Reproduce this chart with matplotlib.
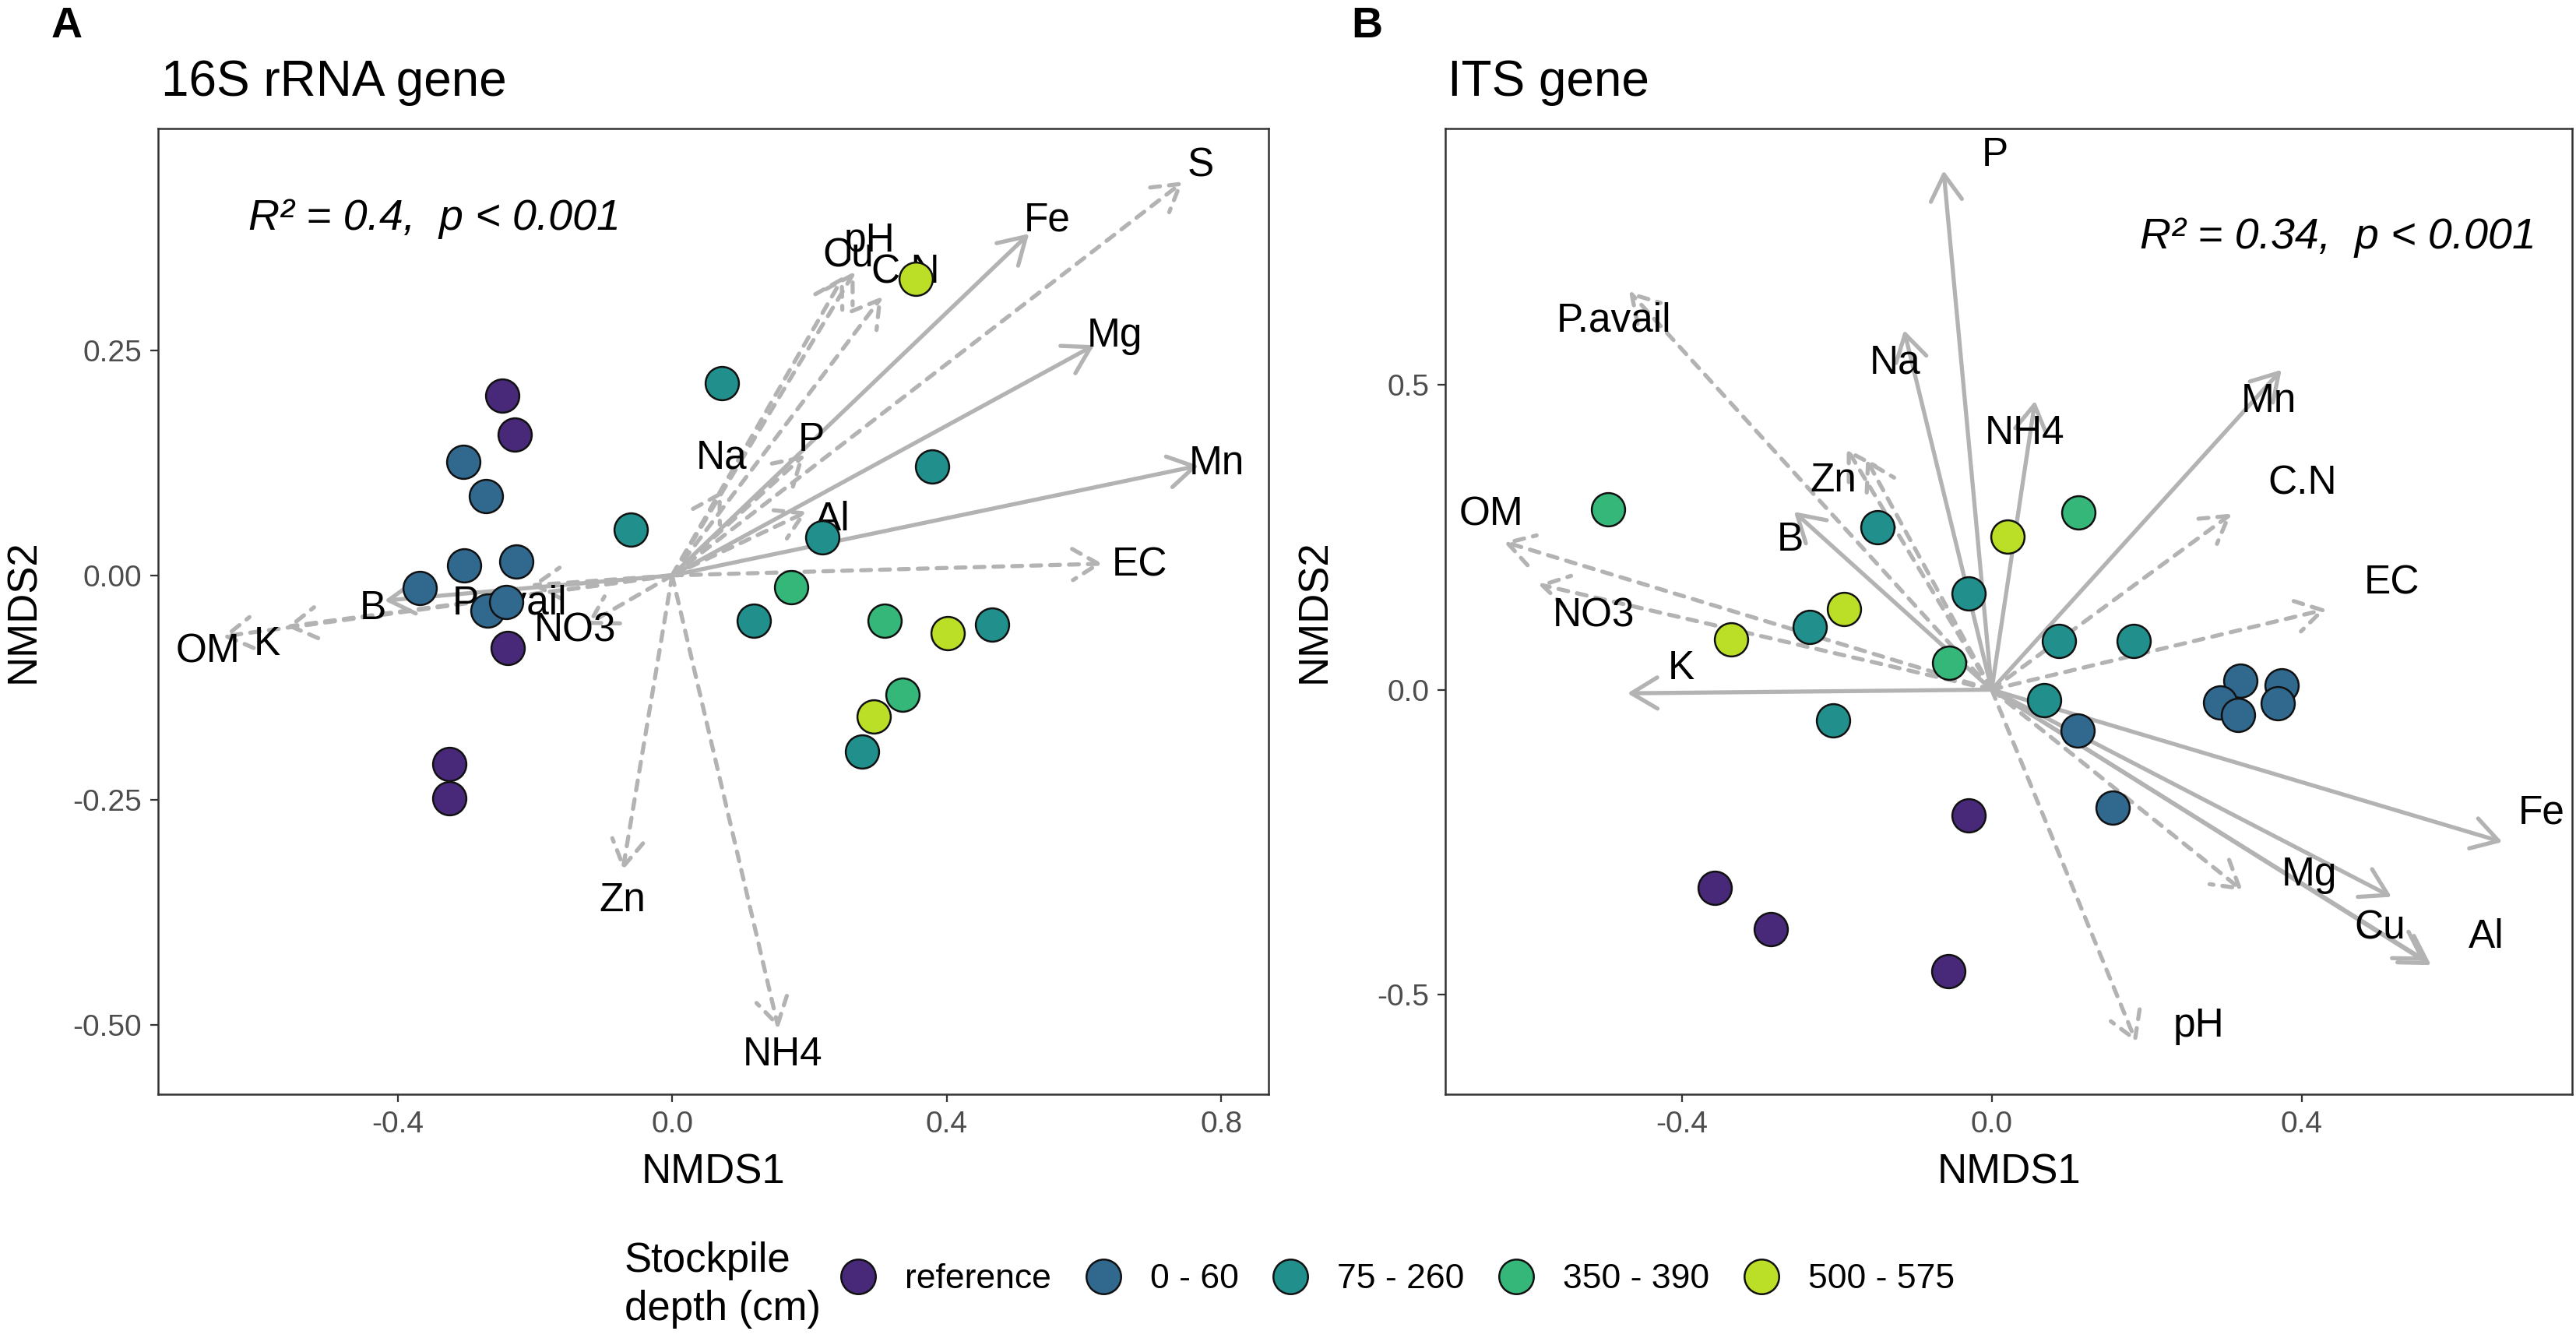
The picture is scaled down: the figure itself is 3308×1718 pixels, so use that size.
import matplotlib
matplotlib.use("Agg")
import matplotlib.pyplot as plt
from matplotlib.lines import Line2D

plt.rcParams['font.family'] = ['Liberation Sans', 'DejaVu Sans']

W, H = 3308, 1718

# ---------------- data ----------------
groups = ["reference", "0 - 60", "75 - 260", "350 - 390", "500 - 575"]
colors = ['#482878', '#31688E', '#21908C', '#35B779', '#BBDF27']

# Panel A (16S rRNA gene) sample scores
A_ref_x = [-0.248, -0.229, -0.239, -0.325, -0.325]
A_ref_y = [0.200, 0.157, -0.081, -0.210, -0.248]
A_d060_x = [-0.304, -0.271, -0.303, -0.227, -0.368, -0.269, -0.242]
A_d060_y = [0.126, 0.088, 0.011, 0.015, -0.014, -0.039, -0.030]
A_d75_x = [0.072, -0.060, 0.379, 0.219, 0.119, 0.466, 0.277]
A_d75_y = [0.214, 0.051, 0.121, 0.042, -0.050, -0.055, -0.196]
A_d350_x = [0.174, 0.310, 0.336]
A_d350_y = [-0.013, -0.050, -0.133]
A_d500_x = [0.355, 0.402, 0.294]
A_d500_y = [0.330, -0.064, -0.157]

# Panel A environmental vectors
A_vec_names = ["S", "Fe", "pH", "Cu", "C.N", "Mg", "Na", "P", "Al", "Mn", "EC",
               "OM", "K", "B", "P.avail", "NO3", "Zn", "NH4"]
A_vec_x = [0.745, 0.520, 0.250, 0.266, 0.306, 0.615, 0.072, 0.193, 0.197, 0.767, 0.627,
           -0.656, -0.562, -0.419, -0.206, -0.125, -0.072, 0.155]
A_vec_y = [0.438, 0.380, 0.333, 0.338, 0.310, 0.256, 0.094, 0.134, 0.071, 0.122, 0.013,
           -0.068, -0.057, -0.028, -0.011, -0.055, -0.328, -0.504]
A_vec_signif = [False, True, False, False, False, True, False, False, False, True, False,
                False, False, True, False, False, False, False]
A_lab_x = [0.770, 0.546, 0.288, 0.257, 0.340, 0.645, 0.072, 0.203, 0.233, 0.794, 0.681,
           -0.676, -0.590, -0.436, -0.237, -0.141, -0.072, 0.161]
A_lab_y = [0.455, 0.395, 0.372, 0.355, 0.337, 0.266, 0.131, 0.150, 0.062, 0.124, 0.011,
           -0.085, -0.077, -0.037, -0.031, -0.062, -0.362, -0.533]

# Panel B (ITS gene) sample scores
B_ref_x = [-0.030, -0.357, -0.285, -0.056]
B_ref_y = [-0.206, -0.325, -0.393, -0.4625]
B_d060_x = [0.111, 0.156, 0.321, 0.295, 0.318, 0.374, 0.369]
B_d060_y = [-0.067, -0.193, 0.015, -0.021, -0.042, 0.007, -0.022]
B_d75_x = [-0.147, -0.030, -0.235, 0.087, 0.183, 0.068, -0.205]
B_d75_y = [0.266, 0.158, 0.1025, 0.080, 0.080, -0.017, -0.050]
B_d350_x = [-0.495, 0.112, -0.055]
B_d350_y = [0.296, 0.291, 0.044]
B_d500_x = [0.020, -0.191, -0.336]
B_d500_y = [0.251, 0.132, 0.083]

# Panel B environmental vectors
B_vec_names = ["P", "Na", "NH4", "Mn", "B", "K", "Fe", "Mg", "Cu", "Al",
               "P.avail", "Zn", "", "OM", "NO3", "C.N", "EC", "pH", ""]
B_vec_x = [-0.062, -0.113, 0.056, 0.374, -0.255, -0.470, 0.659, 0.516, 0.560, 0.567,
           -0.468, -0.187, -0.162, -0.630, -0.585, 0.310, 0.432, 0.187, 0.324]
B_vec_y = [0.852, 0.590, 0.474, 0.525, 0.292, -0.006, -0.250, -0.340, -0.445, -0.452,
           0.654, 0.396, 0.379, 0.243, 0.173, 0.289, 0.132, -0.580, -0.330]
B_vec_signif = [True, True, True, True, True, True, True, True, True, True,
                False, False, False, False, False, False, False, False, False]
B_lab_x = [0.004, -0.125, 0.043, 0.358, -0.260, -0.401, 0.709, 0.410, 0.501, 0.638,
           -0.487, -0.204, 0.0, -0.646, -0.514, 0.401, 0.516, 0.267, 0.0]
B_lab_y = [0.877, 0.536, 0.421, 0.473, 0.246, 0.034, -0.202, -0.304, -0.392, -0.406,
           0.605, 0.343, 0.0, 0.287, 0.121, 0.338, 0.175, -0.552, 0.0]

A_xticks = [-0.4, 0.0, 0.4, 0.8]
A_xticklabels = ["-0.4", "0.0", "0.4", "0.8"]
A_yticks = [-0.50, -0.25, 0.00, 0.25]
A_yticklabels = ["-0.50", "-0.25", "0.00", "0.25"]
B_xticks = [-0.4, 0.0, 0.4]
B_xticklabels = ["-0.4", "0.0", "0.4"]
B_yticks = [-0.5, 0.0, 0.5]
B_yticklabels = ["-0.5", "0.0", "0.5"]

# ---------------- styles ----------------
ARROW_COL = '#B3B3B3'
ARROW_LW = 3.8
PT_SIZE = 950
LAB_FS = 37
TICK_FS = 28
AXT_FS = 38

fig = plt.figure(figsize=(W / 100, H / 100), dpi=100)
axA = fig.add_axes([203 / W, 1 - 1405 / H, (1629 - 203) / W, (1405 - 165) / H])
axB = fig.add_axes([1856 / W, 1 - 1405 / H, (3303 - 1856) / W, (1405 - 165) / H])


def draw_panel(ax, pts, names, vx, vy, sig, lx, ly, xlim, ylim,
               xt, xtl, yt, ytl):
    for n, x, y, s in zip(names, vx, vy, sig):
        ls = '-' if s else (0, (2.4, 2.2))
        ax.annotate('', xy=(x, y), xytext=(0, 0),
                    arrowprops=dict(arrowstyle='->,head_length=0.4,head_width=0.24',
                                    mutation_scale=60, lw=ARROW_LW, color=ARROW_COL,
                                    linestyle=ls, shrinkA=0, shrinkB=0),
                    zorder=2)
    for n, x, y in zip(names, lx, ly):
        if n:
            ax.text(x, y, n, fontsize=LAB_FS, ha='center', va='center',
                    color='black', zorder=3)
    for (px, py), c in zip(pts, colors):
        ax.scatter(px, py, s=PT_SIZE, c=c, edgecolors='#111111',
                   linewidths=1.8, zorder=4)
    ax.set_xlim(*xlim)
    ax.set_ylim(*ylim)
    ax.set_xticks(xt)
    ax.set_xticklabels(xtl)
    ax.set_yticks(yt)
    ax.set_yticklabels(ytl)
    ax.tick_params(axis='both', length=7, width=1.6, color='#333333',
                   labelsize=TICK_FS, labelcolor='#4D4D4D', pad=8)
    for sp in ax.spines.values():
        sp.set_color('#333333')
        sp.set_linewidth(1.8)


ptsA = [(A_ref_x, A_ref_y), (A_d060_x, A_d060_y), (A_d75_x, A_d75_y),
        (A_d350_x, A_d350_y), (A_d500_x, A_d500_y)]
ptsB = [(B_ref_x, B_ref_y), (B_d060_x, B_d060_y), (B_d75_x, B_d75_y),
        (B_d350_x, B_d350_y), (B_d500_x, B_d500_y)]

draw_panel(axA, ptsA, A_vec_names, A_vec_x, A_vec_y, A_vec_signif, A_lab_x, A_lab_y,
           (-0.749, 0.869), (-0.577, 0.497),
           A_xticks, A_xticklabels, A_yticks, A_yticklabels)
draw_panel(axB, ptsB, B_vec_names, B_vec_x, B_vec_y, B_vec_signif, B_lab_x, B_lab_y,
           (-0.705, 0.749), (-0.664, 0.921),
           B_xticks, B_xticklabels, B_yticks, B_yticklabels)

axA.text(-0.617, 0.384, 'R² = 0.4,  p < 0.001', style='italic', fontsize=40,
         ha='left', va='baseline', zorder=5)
axB.text(0.703, 0.724, 'R² = 0.34,  p < 0.001', style='italic', fontsize=40,
         ha='right', va='baseline', zorder=5)

# titles and panel letters
fig.text(66 / W, 1 - 48 / H, 'A', fontsize=40, fontweight='bold', va='baseline')
fig.text(1735 / W, 1 - 48 / H, 'B', fontsize=40, fontweight='bold', va='baseline')
fig.text(207 / W, 1 - 123 / H, '16S rRNA gene', fontsize=46, va='baseline')
fig.text(1859 / W, 1 - 123 / H, 'ITS gene', fontsize=46, va='baseline')

# axis titles
fig.text(916 / W, 1 - 1505 / H, 'NMDS1', fontsize=AXT_FS, ha='center', va='center')
fig.text(2580 / W, 1 - 1505 / H, 'NMDS1', fontsize=AXT_FS, ha='center', va='center')
fig.text(30 / W, 1 - 785 / H, 'NMDS2', fontsize=AXT_FS, ha='center', va='center',
         rotation=90)
fig.text(1688 / W, 1 - 785 / H, 'NMDS2', fontsize=AXT_FS, ha='center', va='center',
         rotation=90)

# legend
handles = [Line2D([0], [0], marker='o', linestyle='none', markersize=32,
                  markerfacecolor=c, markeredgecolor='#111111', markeredgewidth=1.8)
           for c in colors]
fig.legend(handles, groups, ncol=5, loc='center left',
           bbox_to_anchor=(1080 / W, 1 - 1643 / H), frameon=False,
           fontsize=32, handlelength=1.0, handletextpad=0.85, columnspacing=1.0,
           borderpad=0, borderaxespad=0)
fig.text(802 / W, 1 - 1650 / H, 'Stockpile\ndepth (cm)', fontsize=38,
         ha='left', va='center', linespacing=1.3)

fig.savefig('out.png', dpi=100)
